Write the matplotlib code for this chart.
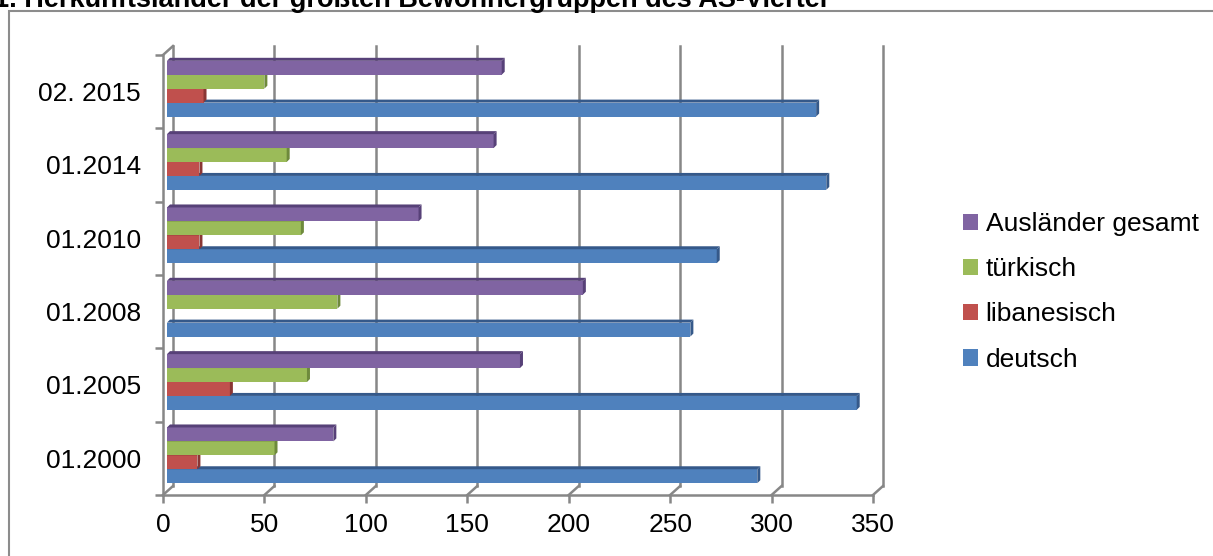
import matplotlib
matplotlib.use("Agg")
import matplotlib.pyplot as plt
from matplotlib.patches import Polygon, Patch, Rectangle

plt.rcParams['font.family'] = ['Liberation Sans', 'DejaVu Sans']

# data
categories = ["01.2000", "01.2005", "01.2008", "01.2010", "01.2014", "02. 2015"]
deutsch = [291, 340, 258, 271, 325, 320]
libanesisch = [15, 31, 0, 16, 16, 18]
tuerkisch = [53, 69, 84, 66, 59, 48]
auslaender = [82, 174, 205, 124, 161, 165]
series_names = ["deutsch", "libanesisch", "türkisch", "Ausländer gesamt"]
colors = ["#4F81BD", "#C0504D", "#9BBB59", "#8064A2"]
dark = ["#35598A", "#8A3634", "#6E8A3C", "#574178"]
xticks = [0, 50, 100, 150, 200, 250, 300, 350]

W, H = 1213, 556
fig = plt.figure(figsize=(W / 100, H / 100), dpi=100)

# plot box in pixels (front plane)
x0, x1, ytop, ybot = 163, 873, 55, 495
ax = fig.add_axes([x0 / W, (H - ybot) / H, (x1 - x0) / W, (ybot - ytop) / H])
ax.set_xlim(0, 350)
ax.set_ylim(-0.5, 5.5)

# pixel -> data helpers for the fake 3d depth
ux = 350 / (x1 - x0)
uy = 6 / (ybot - ytop)
DX, DY = 10 * ux, 9 * uy      # back wall offset
BX, BY = 4 * ux, 3 * uy       # bars sit a bit inside
CX, CY = 3 * ux, 3 * uy       # bar depth

grey = "#878787"

# back wall grid
for v in xticks:
    ax.plot([v + DX, v + DX], [-0.5 + DY, 5.5 + DY], color=grey, lw=1.8, zorder=0, clip_on=False)
    ax.plot([v, v + DX], [-0.5, -0.5 + DY], color=grey, lw=1.8, zorder=0, clip_on=False)
ax.plot([0, DX], [5.5, 5.5 + DY], color=grey, lw=1.8, zorder=0, clip_on=False)

# bars
h = 0.19
series = [deutsch, libanesisch, tuerkisch, auslaender]
for k, vals in enumerate(series):
    ypos = [i + (k - 1.5) * h + BY for i in range(len(categories))]
    bars = ax.barh(ypos, vals, height=h, left=BX, color=colors[k], zorder=3 + k)
    for b in bars:
        bx, by = b.get_x(), b.get_y()
        bw, bh = b.get_width(), b.get_height()
        if bw <= 0:
            continue
        xe = bx + bw
        cap = Polygon([(xe, by), (xe + CX, by + CY), (xe + CX, by + bh + CY), (xe, by + bh)],
                      closed=True, facecolor=dark[k], edgecolor='none', zorder=3 + k)
        top = Polygon([(bx, by + bh), (xe, by + bh), (xe + CX, by + bh + CY), (bx + CX, by + bh + CY)],
                      closed=True, facecolor=dark[k], edgecolor='none', zorder=3 + k)
        ax.add_patch(cap)
        ax.add_patch(top)

# axes styling
for s in ["top", "right"]:
    ax.spines[s].set_visible(False)
for s in ["left", "bottom"]:
    ax.spines[s].set_color(grey)
    ax.spines[s].set_linewidth(1.8)

ax.set_xticks(xticks)
ax.set_xticklabels([str(t) for t in xticks], fontsize=19)
ax.tick_params(axis='x', direction='out', length=6, width=1.8, color=grey, pad=7)

ax.set_yticks([i - 0.5 for i in range(len(categories) + 1)])
ax.set_yticklabels([])
ax.tick_params(axis='y', which='major', direction='out', length=6, width=1.8, color=grey)
ax.set_yticks(range(len(categories)), minor=True)
ax.set_yticklabels(categories, minor=True, fontsize=19)
ax.tick_params(axis='y', which='minor', length=0, pad=16)
ax.patch.set_alpha(0)

# legend (reversed like the original)
handles = [Patch(facecolor=colors[k]) for k in range(3, -1, -1)]
labels = [series_names[k] for k in range(3, -1, -1)]
fig.legend(handles, labels, loc='upper left', bbox_to_anchor=(950 / W, 1 - 199 / H),
           frameon=False, fontsize=19, handlelength=0.55, handleheight=0.6,
           handletextpad=0.3, labelspacing=0.8, borderpad=0)

# outer chart box, partly cut by the image edges
fig.patches.append(Rectangle((9 / W, -0.1), 1.2, 1 - 11 / H + 0.1, transform=fig.transFigure,
                             fill=False, edgecolor="#8C8C8C", lw=1.5))

# title, cut off at the top of the image
fig.text(-6 / W, 1 - 7 / H, "1. Herkunftsländer der größten Bewohnergruppen des AS-Viertel",
         fontsize=19.5, fontweight='bold', ha='left', va='baseline')

fig.savefig("out.png", dpi=100)
